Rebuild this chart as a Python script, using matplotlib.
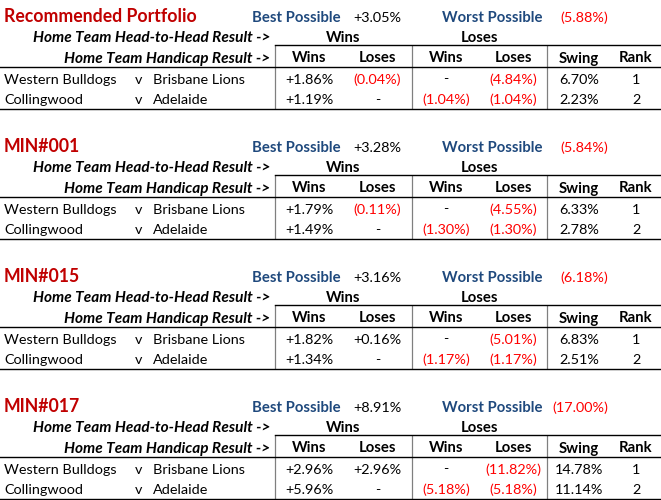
import matplotlib
matplotlib.use("Agg")
import matplotlib.pyplot as plt

# ---- data ----
portfolio_titles = ["Recommended Portfolio", "MIN#001", "MIN#015", "MIN#017"]
best_possible = [3.05, 3.28, 3.16, 8.91]
worst_possible = [-5.88, -5.84, -6.18, -17.00]
home_teams = ["Western Bulldogs", "Collingwood"]
away_teams = ["Brisbane Lions", "Adelaide"]
group_headers = ["Wins", "Loses"]
sub_headers = ["Wins", "Loses", "Wins", "Loses", "Swing", "Rank"]
# per portfolio, per game: [H2H Win & Hcp Win, H2H Win & Hcp Lose, H2H Lose & Hcp Win, H2H Lose & Hcp Lose]
outcomes = [
    [[1.86, -0.04, 0.0, -4.84], [1.19, 0.0, -1.04, -1.04]],
    [[1.79, -0.11, 0.0, -4.55], [1.49, 0.0, -1.30, -1.30]],
    [[1.82, 0.16, 0.0, -5.01], [1.34, 0.0, -1.17, -1.17]],
    [[2.96, 2.96, 0.0, -11.82], [5.96, 0.0, -5.18, -5.18]],
]
swing = [[6.70, 2.23], [6.33, 2.78], [6.83, 2.51], [14.78, 11.14]]
rank = [[1, 2], [1, 2], [1, 2], [1, 2]]

# ---- style ----
FONT = "Lato"
RED = "#FF0000"
TITLE_RED = "#C00000"
BLUE = "#1F497D"
FS = 10.4
FS_BOLD = 10.7
FS_ITAL = 11.1
FS_TITLE = 12.7
W, H = 661, 500

fig = plt.figure(figsize=(W / 100, H / 100), dpi=100)
ax = fig.add_axes([0, 0, 1, 1])
ax.set_xlim(0, W)
ax.set_ylim(H, 0)
ax.axis("off")

col_edges = [275, 343, 412, 480, 547, 611, 661]
col_centers = [(col_edges[i] + col_edges[i + 1]) / 2 for i in range(6)]


def fmt(v, signed=True):
    if v == 0:
        return "-", "black"
    if v < 0:
        return "(%.2f%%)" % abs(v), RED
    return ("+%.2f%%" % v if signed else "%.2f%%" % v), "black"


def t(x, y, s, ha="left", color="black", weight="normal", style="normal", size=FS):
    ax.text(x, y, s, ha=ha, va="baseline", color=color, fontsize=size,
            fontfamily=FONT, fontweight=weight, fontstyle=style)


for k, title in enumerate(portfolio_titles):
    o = 130 * k
    # title row
    t(4, 22 + o, title, color=TITLE_RED, weight="bold", size=FS_TITLE)
    t(341, 22 + o, "Best Possible", ha="right", color=BLUE, weight="bold", size=FS_BOLD)
    s, c = fmt(best_possible[k])
    t(col_centers[1], 22 + o, s, ha="center", color=c)
    t(543, 22 + o, "Worst Possible", ha="right", color=BLUE, weight="bold", size=FS_BOLD)
    s, c = fmt(worst_possible[k])
    t(608, 22 + o, s, ha="right", color=c)

    # header rows
    t(270, 41.5 + o, "Home Team Head-to-Head Result ->", ha="right", weight="bold",
      style="italic", size=FS_ITAL)
    t((col_edges[0] + col_edges[2]) / 2, 41.5 + o, group_headers[0], ha="center",
      weight="bold", size=FS_BOLD)
    t((col_edges[2] + col_edges[4]) / 2, 41.5 + o, group_headers[1], ha="center",
      weight="bold", size=FS_BOLD)
    t(270, 62.5 + o, "Home Team Handicap Result ->", ha="right", weight="bold",
      style="italic", size=FS_ITAL)
    for i, h in enumerate(sub_headers):
        t(col_centers[i], 62.5 + o, h, ha="center", weight="bold", size=FS_BOLD)

    # data rows
    for r in range(2):
        y = 83.5 + o + 20.5 * r
        t(4, y, home_teams[r])
        t(135, y, "v")
        t(153, y, away_teams[r])
        for i, v in enumerate(outcomes[k][r]):
            s, c = fmt(v)
            t(col_centers[i], y, s, ha="center", color=c)
        s, c = fmt(swing[k][r], signed=False)
        t(col_centers[4], y, s, ha="center", color=c)
        t(col_centers[5], y, str(rank[k][r]), ha="center")

    # lines
    ax.plot([275, W], [45 + o, 45 + o], color="black", lw=1.0)
    ax.plot([0, W], [67 + o, 67 + o], color="black", lw=1.0)
    yb = min(109 + o, 499)
    ax.plot([0, W], [yb, yb], color="black", lw=1.0)
    for x in (275, 412, 547):
        ax.plot([x, x], [45 + o, yb], color="black", lw=0.9, ls=(0, (0.8, 0.8)))

fig.savefig("out.png", dpi=100, facecolor="white")
